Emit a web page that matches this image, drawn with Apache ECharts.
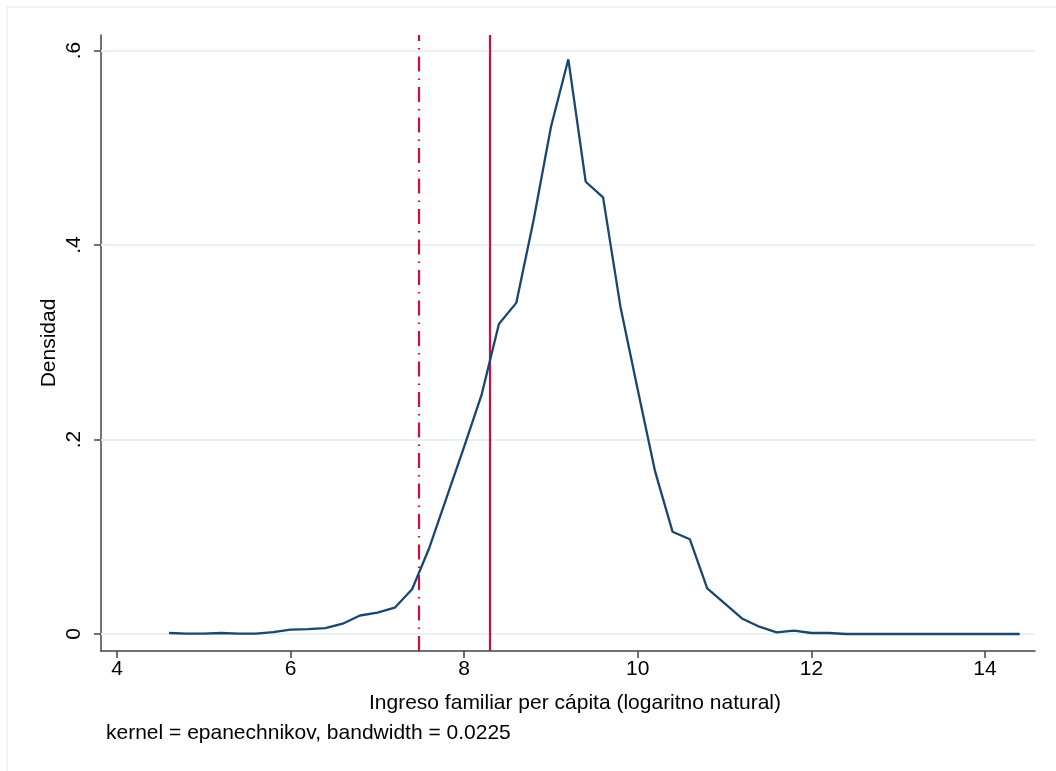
<!DOCTYPE html>
<html>
<head>
<meta charset="utf-8">
<script src="https://cdn.jsdelivr.net/npm/echarts@6/dist/echarts.min.js"></script>
<style>html,body{margin:0;padding:0;background:#fff}#c{width:1056px;height:771px}</style>
</head>
<body>
<div id="c"></div>
<script>
const xValues = [4.6,4.8,5.0,5.2,5.4,5.6,5.8,6.0,6.2,6.4,6.6,6.8,7.0,7.2,7.4,7.6,7.8,8.0,8.2,8.4,8.6,8.8,9.0,9.2,9.4,9.6,9.8,10.0,10.2,10.4,10.6,10.8,11.0,11.2,11.4,11.6,11.8,12.0,12.2,12.4,12.6,12.8,13.0,13.2,13.4,13.6,13.8,14.0,14.2,14.4];
const density = [0.001,0.0003,0.0003,0.001,0.0003,0.0003,0.002,0.0045,0.005,0.006,0.0106,0.019,0.022,0.027,0.046,0.089,0.141,0.1926,0.2458,0.3188,0.3405,0.4257,0.5217,0.591,0.4651,0.449,0.3366,0.251,0.1669,0.1052,0.0974,0.047,0.0315,0.016,0.0075,0.0017,0.0034,0.001,0.001,0,0,0,0,0,0,0,0,0,0,0];
const xTicks = [4,6,8,10,12,14];
const yTicks = [0,0.2,0.4,0.6];
const yTickLabels = ['0','.2','.4','.6'];
const dashedLineX = 7.479;
const solidLineX = 8.286;
const xTitle = 'Ingreso familiar per cápita (logaritno natural)';
const yTitle = 'Densidad';
const note = 'kernel = epanechnikov, bandwidth = 0.0225';

const chart = echarts.init(document.getElementById('c'), null, {renderer:'canvas'});
const font = 'Liberation Sans, Arial, sans-serif';
const fs = 21;
const red = '#c8103c';
chart.setOption({
  animation:false,
  backgroundColor:'#ffffff',
  grid:{left:101, right:21, top:35, bottom:120},
  xAxis:{
    type:'value', min:3.816, max:14.576,
    axisLine:{show:true, onZero:false, lineStyle:{color:'#444', width:1.5}},
    axisTick:{show:true, length:7, customValues:xTicks, lineStyle:{color:'#444', width:1.5}},
    axisLabel:{customValues:xTicks, margin:8, fontSize:fs, color:'#000', fontFamily:font},
    splitLine:{show:false}
  },
  yAxis:{
    type:'value', min:-0.0175, max:0.616,
    axisLine:{show:true, onZero:false, lineStyle:{color:'#444', width:1.5}},
    axisTick:{show:true, length:7, customValues:yTicks, lineStyle:{color:'#444', width:1.5}},
    axisLabel:{customValues:yTicks, rotate:90, margin:16, fontSize:fs, color:'#000', fontFamily:font,
      formatter:v=>{const i=yTicks.findIndex(t=>Math.abs(t-v)<1e-9);return i>=0?yTickLabels[i]:'';}},
    splitLine:{show:false}
  },
  series:[
    {type:'line', data:[], silent:true,
      markLine:{silent:true, symbol:'none', label:{show:false},
        lineStyle:{color:'#e8f1f3', width:2, type:'solid'},
        data:yTicks.map(v=>({yAxis:v}))}},
    {type:'line', data:[], silent:true,
      markLine:{silent:true, symbol:'none', label:{show:false},
        data:[
          {xAxis:dashedLineX, lineStyle:{color:red, width:2.2, type:[15,7,1.5,7]}},
          {xAxis:solidLineX, lineStyle:{color:red, width:2.2, type:'solid'}}
        ]}},
    {type:'line', data:xValues.map((x,i)=>[x,density[i]]), showSymbol:false, symbol:'none',
      lineStyle:{color:'#1a476f', width:2.3}, z:5}
  ],
  graphic:[
    {type:'rect', shape:{x:7,y:7,width:1100,height:800}, style:{fill:'none', stroke:'#eaf2f3', lineWidth:1.5}, silent:true},
    {type:'text', x:575, y:703, style:{text:xTitle, font:fs+'px '+font, fill:'#000', textAlign:'center', textVerticalAlign:'middle'}},
    {type:'text', x:106, y:733, style:{text:note, font:fs+'px '+font, fill:'#000', textAlign:'left', textVerticalAlign:'middle'}},
    {type:'text', x:49, y:343, rotation:Math.PI/2, style:{text:yTitle, font:fs+'px '+font, fill:'#000', textAlign:'center', textVerticalAlign:'middle'}}
  ]
});
</script>
</body>
</html>
